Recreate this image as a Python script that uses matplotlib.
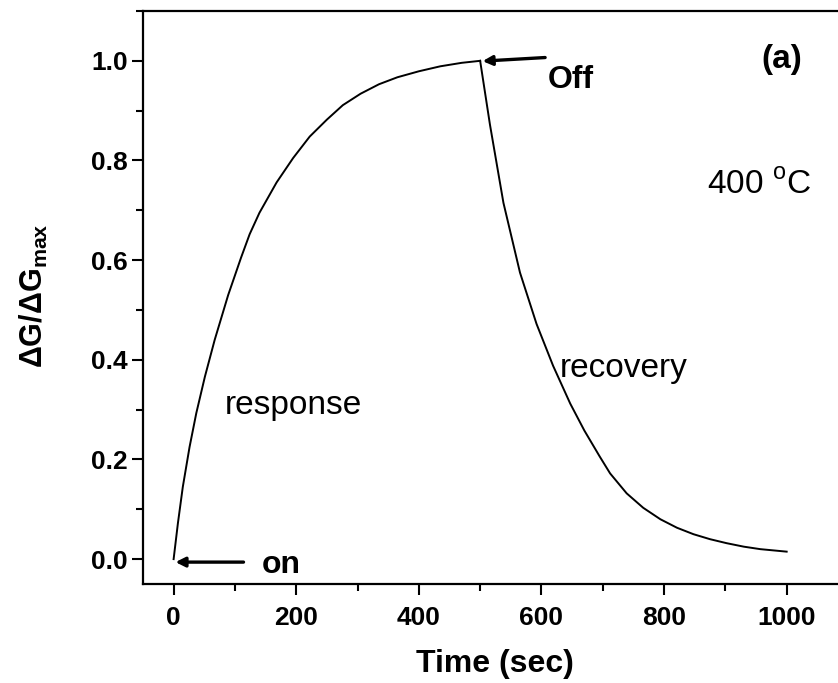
import matplotlib
matplotlib.use("Agg")
import matplotlib.pyplot as plt
from matplotlib.ticker import MultipleLocator

plt.rcParams['font.family'] = ['Liberation Sans', 'DejaVu Sans']
plt.rcParams['mathtext.fontset'] = 'custom'
plt.rcParams['mathtext.rm'] = 'Liberation Sans'
plt.rcParams['mathtext.bf'] = 'Liberation Sans:bold'

# valeurs
resp_t = [0, 7, 15, 26, 37, 51, 67, 89, 110, 124, 140, 168, 195, 222, 250,
          276, 305, 335, 365, 400, 435, 470, 500]
resp_y = [0.0, 0.072, 0.145, 0.225, 0.293, 0.366, 0.44, 0.53, 0.605, 0.652,
          0.695, 0.756, 0.805, 0.848, 0.882, 0.911, 0.934, 0.953, 0.967,
          0.979, 0.989, 0.996, 1.0]

rec_t = [500, 516, 538, 565, 592, 619, 647, 670, 695, 712, 739, 766, 794,
         821, 848, 875, 902, 930, 957, 1000]
rec_y = [1.0, 0.872, 0.715, 0.575, 0.472, 0.388, 0.312, 0.258, 0.206, 0.172,
         0.132, 0.103, 0.080, 0.063, 0.050, 0.040, 0.032, 0.025, 0.020, 0.015]

x_ticks = [0, 200, 400, 600, 800, 1000]
y_ticks = [0.0, 0.2, 0.4, 0.6, 0.8, 1.0]

fig = plt.figure(figsize=(8.38, 6.83), dpi=100)
ax = fig.add_axes([0.1706, 0.1449, 0.8413, 0.839])

ax.plot(resp_t, resp_y, color='black', lw=1.4)
ax.plot(rec_t, rec_y, color='black', lw=1.4)

ax.set_xlim(-50, 1100)
ax.set_ylim(-0.05, 1.1)
ax.set_xticks(x_ticks)
ax.set_yticks(y_ticks)
ax.set_xticklabels([str(v) for v in x_ticks])
ax.set_yticklabels([f"{v:.1f}" for v in y_ticks])
ax.xaxis.set_minor_locator(MultipleLocator(100))
ax.yaxis.set_minor_locator(MultipleLocator(0.1))

for s in ax.spines.values():
    s.set_linewidth(1.6)
ax.tick_params(which='major', direction='out', length=8, width=1.5)
ax.tick_params(which='minor', direction='out', length=5, width=1.5)
ax.tick_params(axis='x', which='major', pad=8)
ax.tick_params(axis='y', which='major', pad=3)
for lab in ax.get_xticklabels() + ax.get_yticklabels():
    lab.set_fontsize(19)
    lab.set_fontweight('bold')

ax.set_xlabel('Time (sec)', fontsize=23, fontweight='bold')
ax.xaxis.set_label_coords(0.499, -0.113)
ax.set_ylabel(r'ΔG/ΔG$_{\mathbf{max}}$', fontsize=22, fontweight='bold')
ax.yaxis.set_label_coords(-0.1315, 0.504)

# flèches on / off
arrow = dict(arrowstyle='-|>', lw=2.4, color='black', mutation_scale=14,
             shrinkA=0, shrinkB=0)
ax.annotate('', xy=(3, -0.006), xytext=(114, -0.006), arrowprops=arrow)
ax.annotate('', xy=(504, 0.9994), xytext=(606, 1.0066), arrowprops=arrow)

ax.text(143, -0.012, 'on', fontsize=23, fontweight='bold', va='center', ha='left')
ax.text(610, 0.962, 'Off', fontsize=23, fontweight='bold', va='center', ha='left')
ax.text(958, 1.002, '(a)', fontsize=24, fontweight='bold', va='center', ha='left')
ax.text(870, 0.751, r'400 $^{\mathrm{o}}$C', fontsize=24, va='center', ha='left')
ax.text(83, 0.309, 'response', fontsize=24, va='center', ha='left')
ax.text(630, 0.382, 'recovery', fontsize=24, va='center', ha='left')

fig.savefig('out.png', dpi=100)
